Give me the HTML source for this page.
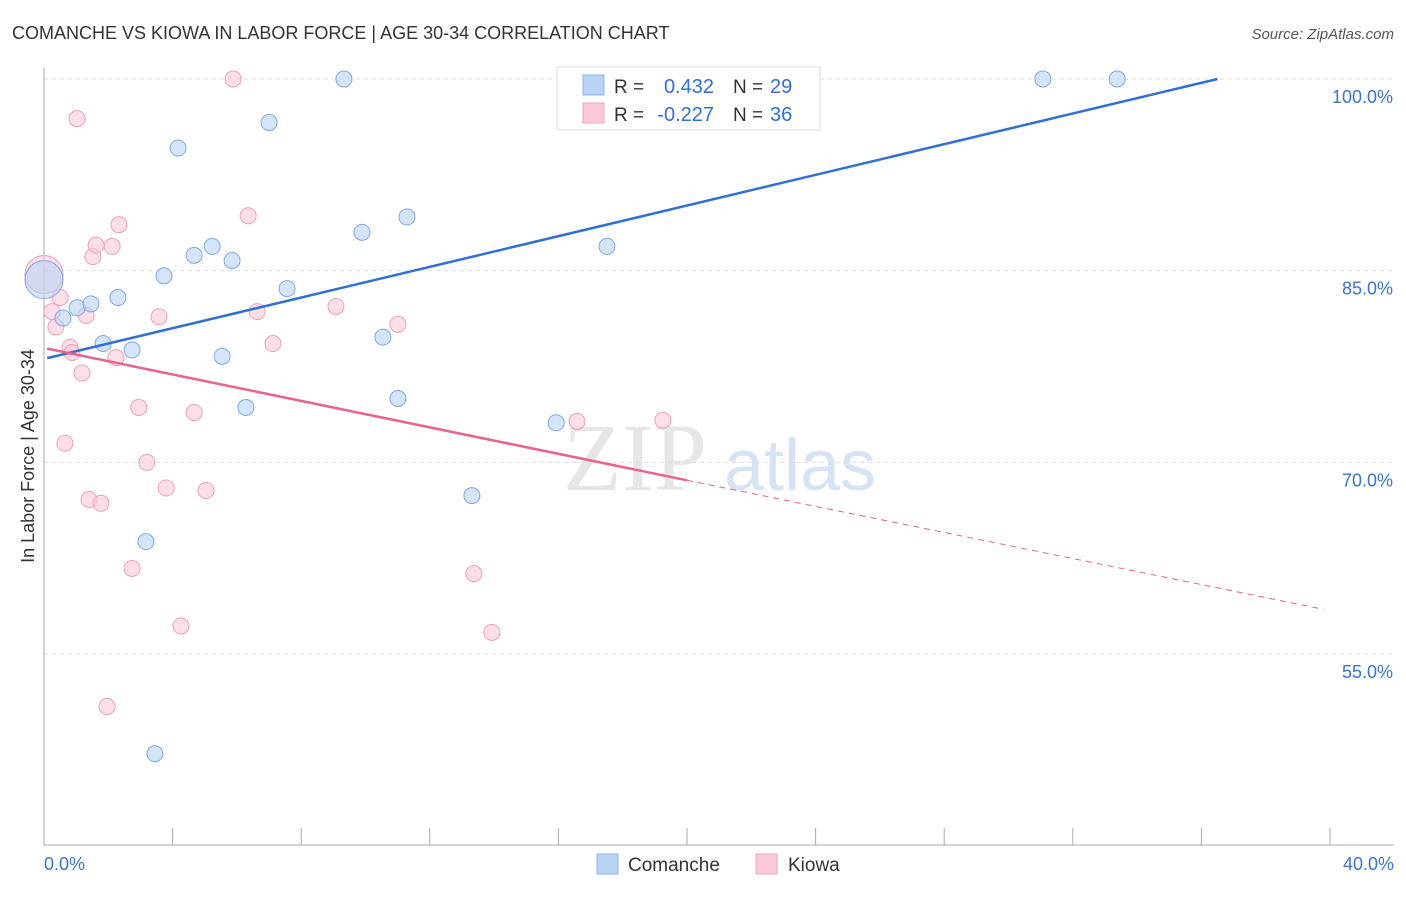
<!DOCTYPE html>
<html><head><meta charset="utf-8"><style>
body{margin:0;background:#fff;font-family:"Liberation Sans",sans-serif;}
</style></head><body>
<svg id="chart" width="1406" height="892" xmlns="http://www.w3.org/2000/svg">
<text x="12" y="39" font-size="18" fill="#333">COMANCHE VS KIOWA IN LABOR FORCE | AGE 30-34 CORRELATION CHART</text>
<text x="1394" y="39" font-size="15" fill="#555" text-anchor="end" font-style="italic">Source: ZipAtlas.com</text>
<text x="635" y="490" font-size="96" fill="#e6e6e6" font-family="Liberation Serif,serif" text-anchor="middle">ZIP</text>
<text x="800" y="490" font-size="72" fill="#d6e3f5" text-anchor="middle">atlas</text>
<text transform="translate(34,456) rotate(-90)" font-size="18" fill="#333" text-anchor="middle">In Labor Force | Age 30-34</text>
<g id="grid"></g><g id="marks"></g>
<g>
<rect x="557" y="67" width="263" height="63" fill="#fff" stroke="#ddd"/>
<rect x="583" y="75" width="21" height="20" fill="#b9d3f5" stroke="#8cb4ea"/>
<rect x="583" y="103" width="21" height="20" fill="#fbc9d8" stroke="#f2a3bc"/>
<text x="614" y="93" font-size="19" fill="#333">R = </text><text x="714" y="93" font-size="20" fill="#2f6fd6" text-anchor="end">0.432</text>
<text x="733" y="93" font-size="19" fill="#333">N = </text><text x="770" y="93" font-size="20" fill="#2f6fd6">29</text>
<text x="614" y="121" font-size="19" fill="#333">R = </text><text x="714" y="121" font-size="20" fill="#2f6fd6" text-anchor="end">-0.227</text>
<text x="733" y="121" font-size="19" fill="#333">N = </text><text x="770" y="121" font-size="20" fill="#2f6fd6">36</text>
</g>
<g>
<rect x="597" y="854" width="21" height="20" fill="#b9d3f5" stroke="#8cb4ea"/>
<text x="628" y="871" font-size="19" fill="#333">Comanche</text>
<rect x="756" y="854" width="21" height="20" fill="#fbc9d8" stroke="#f2a3bc"/>
<text x="788" y="871" font-size="19" fill="#333">Kiowa</text>
</g>
</svg>
<script>
const yTicks=[100,85,70,55];
const comancheX=[0,0.59,1.03,1.46,1.84,2.30,2.74,3.17,3.45,3.73,4.17,4.67,5.23,5.54,5.85,6.28,7.00,7.56,9.33,9.89,10.54,11.01,11.29,13.31,15.93,17.51,20.53,31.07,33.38];
const comancheY=[84.3,81.3,82.1,82.4,79.3,82.9,78.8,63.8,47.2,84.6,94.6,86.2,86.9,78.3,85.8,74.3,96.6,83.6,100,88.0,79.8,75.0,89.2,67.4,73.1,86.9,100,100,100];
const kiowaX=[0,0.25,0.37,0.50,0.65,0.81,0.87,1.03,1.18,1.31,1.40,1.52,1.62,1.77,1.96,2.12,2.24,2.33,2.74,2.95,3.20,3.58,3.80,4.26,4.67,5.04,5.88,6.35,6.63,7.12,9.08,11.01,13.37,13.93,16.58,19.25];
const kiowaY=[84.7,81.8,80.6,82.9,71.5,79.0,78.6,96.9,77.0,81.5,67.1,86.1,87.0,66.8,50.9,86.9,78.2,88.6,61.7,74.3,70.0,81.4,68.0,57.2,73.9,67.8,100,89.3,81.8,79.3,82.2,80.8,61.3,56.7,73.2,73.3];
const comancheTrend=[78.1,36.5,100];
const kiowaTrend=[78.9,20,68.6,40,58.5];
const NS="http://www.w3.org/2000/svg";
const X=v=>44+v*32.15, Y=v=>79+(100-v)*12.78;
function mk(t,a,p){const e=document.createElementNS(NS,t);for(const k in a)e.setAttribute(k,a[k]);p.appendChild(e);return e;}
const g=document.getElementById('grid'),m=document.getElementById('marks');
yTicks.forEach(t=>{
 const l=mk('line',{x1:44,x2:1394,y1:Y(t),y2:Y(t),stroke:'#ddd','stroke-dasharray':'4,4'},g);
 
 
 const tx=mk('text',{x:1393,y:Y(t)+24,'font-size':18,fill:'#3a74d0','text-anchor':'end'},g);
 tx.textContent=t.toFixed(1)+'%';
 
 
});
mk('line',{x1:44,x2:44,y1:68,y2:845,stroke:'#aaa'},g);
mk('line',{x1:44,x2:1394,y1:845,y2:845,stroke:'#aaa'},g);
for(let i=0;i<=10;i++){const t=mk('line',{x1:X(i*4),x2:X(i*4),y1:828,y2:845,stroke:'#aaa'},g);
 
 }
[['0.0%',44,'start'],['40.0%',1394,'end']].forEach(a=>{const t=mk('text',{x:a[1],y:870,'font-size':18,fill:'#3a74d0','text-anchor':a[2]},g);t.textContent=a[0];
 
 });
function pts(xs,ys,f,s,name){xs.forEach((x,i)=>{const c=mk('circle',{cx:X(x),cy:Y(ys[i]),r:(i==0&&x==0)?19:8,fill:f,'fill-opacity':0.6,stroke:s,'stroke-width':1},m);
 
 });}
pts(kiowaX,kiowaY,'#fbc9d8','#eea0b8','kiowa-point');
pts(comancheX,comancheY,'#b9d3f5','#7fa9e3','comanche-point');
const bl=mk('line',{x1:X(0.1),y1:Y(comancheTrend[0]+0.1*(comancheTrend[2]-comancheTrend[0])/comancheTrend[1]),x2:X(comancheTrend[1]),y2:Y(comancheTrend[2]),stroke:'#2f6fd6','stroke-width':2.5},m);


const pl=mk('line',{x1:X(0.1),y1:Y(kiowaTrend[0]),x2:X(kiowaTrend[1]),y2:Y(kiowaTrend[2]),stroke:'#e8638e','stroke-width':2.5},m);


const pd=mk('line',{x1:X(kiowaTrend[1]),y1:Y(kiowaTrend[2]),x2:X(kiowaTrend[3]*0.995),y2:Y(kiowaTrend[4]),stroke:'#e8638e','stroke-width':1,'stroke-dasharray':'6,5'},m);


</script>
</body></html>
